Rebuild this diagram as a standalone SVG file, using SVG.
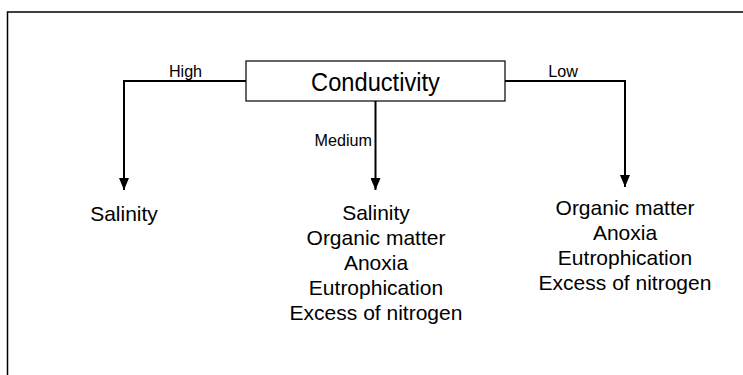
<svg xmlns="http://www.w3.org/2000/svg" width="743" height="375" viewBox="0 0 743 375">
  <style>
    text { font-family: "Liberation Sans", Arial, sans-serif; fill: #000; }
    .title { font-size: 26px; text-anchor: middle; }
    .label { font-size: 17px; }
    .item { font-size: 21px; text-anchor: middle; }
    .wire { fill: none; stroke: #000; stroke-width: 2; }
    .frame { fill: none; stroke: #000; stroke-width: 1.5; }
  </style>
  <defs>
    <marker id="arrow" viewBox="0 0 12 10" refX="12" refY="5" markerWidth="12" markerHeight="10" markerUnits="userSpaceOnUse" orient="auto">
      <path d="M0,0 L12,5 L0,10 Z" fill="#000"/>
    </marker>
  </defs>

  <rect width="743" height="375" fill="#fff"/>

  <!-- outer frame: top and left edges only -->
  <path class="frame" d="M7.5,375 V12 H743"/>

  <!-- connectors -->
  <g id="connectors">
    <path class="wire" d="M246,81 H124 V190" marker-end="url(#arrow)"/>
    <path class="wire" d="M375.5,101 V190" marker-end="url(#arrow)"/>
    <path class="wire" d="M505,81 H625 V187" marker-end="url(#arrow)"/>
    <text class="label" x="185.5" y="77" text-anchor="middle" transform="translate(185.5 0) scale(0.95 1) translate(-185.5 0)">High</text>
    <text class="label" x="372" y="146" text-anchor="end" transform="translate(372 0) scale(0.95 1) translate(-372 0)">Medium</text>
    <text class="label" x="563" y="77" text-anchor="middle" transform="translate(563 0) scale(0.95 1) translate(-563 0)">Low</text>
  </g>

  <!-- root node -->
  <g id="conductivity">
    <rect x="246" y="61" width="259" height="40" fill="#fff" stroke="#000" stroke-width="1.2"/>
    <text class="title" transform="translate(375.5 90.5) scale(0.91 1)">Conductivity</text>
  </g>

  <!-- high conductivity outcome -->
  <g id="high-outcome">
    <text class="item" x="124" y="221">Salinity</text>
  </g>

  <!-- medium conductivity outcome -->
  <g id="medium-outcome">
    <text class="item" x="376" y="220">Salinity</text>
    <text class="item" x="376" y="245">Organic matter</text>
    <text class="item" x="376" y="270">Anoxia</text>
    <text class="item" x="376" y="295">Eutrophication</text>
    <text class="item" x="376" y="320">Excess of nitrogen</text>
  </g>

  <!-- low conductivity outcome -->
  <g id="low-outcome">
    <text class="item" x="625" y="215">Organic matter</text>
    <text class="item" x="625" y="240">Anoxia</text>
    <text class="item" x="625" y="265">Eutrophication</text>
    <text class="item" x="625" y="290">Excess of nitrogen</text>
  </g>
</svg>
